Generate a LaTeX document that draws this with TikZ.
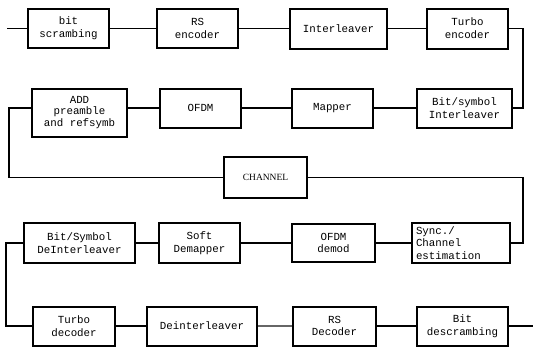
\documentclass[tikz,border=0pt]{standalone}
\usepackage{fontspec}
\setmainfont{Liberation Mono}
\newfontfamily\chfont{Liberation Serif}
\begin{document}
\begin{tikzpicture}[x=1pt,y=-1pt,
  blk/.style={draw=black,line width=2pt,fill=white,align=center,inner sep=0pt,
    font=\fontsize{10.8}{12.8}\selectfont},
  wire/.style={draw=black,line width=1.8pt},
  thinwire/.style={draw=black!60,line width=1.2pt}]
\useasboundingbox (0,0) rectangle (533,348);
% row 1
\node[blk,minimum width=81pt,minimum height=39pt] (bs) at (68.5,28.5) {bit\\scrambing};
\node[blk,minimum width=81pt,minimum height=39pt] (rse) at (197.5,28.5) {RS\\encoder};
\node[blk,minimum width=97pt,minimum height=40pt] (il) at (338.5,28.5) {Interleaver};
\node[blk,minimum width=81pt,minimum height=40pt] (te) at (467.5,28.5) {Turbo\\encoder};
% row 2
\node[blk,minimum width=95pt,minimum height=39pt] (bsi) at (464.5,108) {Bit/symbol\\Interleaver};
\node[blk,minimum width=81pt,minimum height=39pt] (map) at (332.5,108) {Mapper};
\node[blk,minimum width=81pt,minimum height=39pt] (ofdm) at (200.5,108) {OFDM};
\node[blk,minimum width=95pt,minimum height=48pt,font=\fontsize{10.8}{11.7}\selectfont] (add) at (79.5,112.5) {ADD\\preamble\\and refsymb};
% channel
\node[blk,minimum width=83pt,minimum height=41pt,font=\chfont\fontsize{9.5}{11}\selectfont] (ch) at (265.5,177.5) {CHANNEL};
% row 3
\node[blk,minimum width=98pt,minimum height=40pt,align=left,text width=90pt,font=\fontsize{10.8}{12.3}\selectfont] (sync) at (461,243) {Sync./\\Channel\\estimation};
\node[blk,minimum width=83pt,minimum height=38pt] (od) at (333.5,243) {OFDM\\demod};
\node[blk,minimum width=81pt,minimum height=40pt] (sd) at (199.5,243) {Soft\\Demapper};
\node[blk,minimum width=111pt,minimum height=40pt] (bsd) at (79.5,243) {Bit/Symbol\\DeInterleaver};
% row 4
\node[blk,minimum width=82pt,minimum height=39pt] (td) at (74,326) {Turbo\\decoder};
\node[blk,minimum width=110pt,minimum height=39pt] (dil) at (202,326) {Deinterleaver};
\node[blk,minimum width=83pt,minimum height=39pt] (rsd) at (334.5,326) {RS\\Decoder};
\node[blk,minimum width=91pt,minimum height=39pt] (bd) at (462.5,326) {Bit\\descrambing};
% free ends and corners
\coordinate (in) at (7,28.5);
\coordinate (out) at (533,326);
\coordinate (c1) at (523,28.5);
\coordinate (c2) at (9,108);
\coordinate (c3) at (523,177.5);
\coordinate (c4) at (6,243);
% wires
\draw[wire] (in) -- (bs.west);
\draw[wire] (bs.east) -- (rse.west);
\draw[wire] (rse.east) -- (il.west);
\draw[wire] (il.east) -- (te.west);
\draw[wire] (te.east) -- (c1) |- (bsi.east);
\draw[wire] (bsi.west) -- (map.east);
\draw[wire] (map.west) -- (ofdm.east);
\draw[wire] (ofdm.west) -- (ofdm.west -| add.east);
\draw[wire] (add.west |- c2) -- (c2) |- (ch.west);
\draw[wire] (ch.east) -- (c3) |- (sync.east);
\draw[wire] (sync.west) -- (od.east);
\draw[wire] (od.west) -- (sd.east);
\draw[wire] (sd.west) -- (bsd.east);
\draw[wire] (bsd.west) -- (c4) |- (td.west);
\draw[wire] (td.east) -- (dil.west);
\draw[thinwire] (dil.east) -- (rsd.west);
\draw[wire] (rsd.east) -- (bd.west);
\draw[wire] (bd.east) -- (out);
\end{tikzpicture}
\end{document}
